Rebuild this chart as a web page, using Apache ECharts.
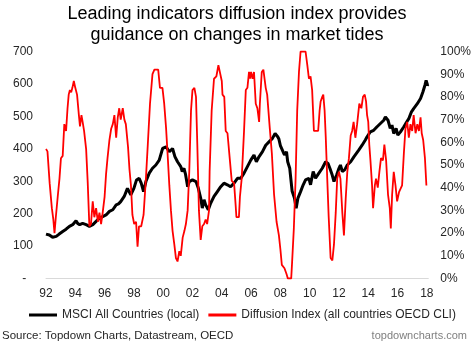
<!DOCTYPE html>
<html>
<head>
<meta charset="utf-8">
<script src="https://cdn.jsdelivr.net/npm/echarts@6/dist/echarts.min.js"></script>
<style>
html,body{margin:0;padding:0;background:#fff;}
#c{width:474px;height:346px;}
</style>
</head>
<body>
<div id="c"></div>
<script>
// MSCI All Countries (local) - left axis
const msciYears = [1992.0,1992.23,1992.45,1992.7,1992.9,1993.14,1993.37,1993.6,1993.82,1994.05,1994.16,1994.3,1994.5,1994.74,1994.96,1995.2,1995.42,1995.65,1995.87,1996.1,1996.33,1996.56,1996.79,1996.95,1997.1,1997.34,1997.56,1997.79,1998.0,1998.18,1998.36,1998.5,1998.66,1998.82,1999.05,1999.27,1999.5,1999.73,1999.96,2000.2,2000.42,2000.64,2000.8,2000.98,2001.2,2001.3,2001.42,2001.53,2001.67,2001.78,2002.0,2002.24,2002.4,2002.56,2002.67,2002.79,2002.9,2003.08,2003.24,2003.47,2003.7,2003.93,2004.15,2004.38,2004.6,2004.84,2005.07,2005.3,2005.52,2005.75,2005.98,2006.2,2006.36,2006.55,2006.78,2007.0,2007.24,2007.46,2007.64,2007.74,2007.82,2007.9,2008.0,2008.1,2008.28,2008.42,2008.5,2008.64,2008.8,2008.96,2009.08,2009.2,2009.38,2009.56,2009.72,2009.95,2010.06,2010.24,2010.4,2010.63,2010.86,2011.09,2011.25,2011.38,2011.54,2011.66,2011.84,2012.0,2012.1,2012.23,2012.39,2012.57,2012.8,2013.03,2013.12,2013.35,2013.58,2013.8,2013.92,2014.14,2014.37,2014.6,2014.83,2015.06,2015.17,2015.35,2015.5,2015.62,2015.74,2015.9,2016.02,2016.2,2016.43,2016.6,2016.77,2016.95,2017.1,2017.35,2017.57,2017.73,2017.87,2017.95,2018.05,2018.1];
const msciValues = [137,134,127,130,137,145,152,161,166,178,170,166,170,166,161,166,176,186,191,196,207,212,227,230,237,253,278,258,278,304,309,294,268,299,325,340,350,365,401,406,391,401,376,360,345,330,340,320,283,299,304,299,278,248,217,243,227,212,232,253,268,283,294,289,283,294,309,309,325,345,365,381,360,376,391,411,422,432,447,452,437,430,410,411,381,391,360,340,270,248,217,248,268,289,304,309,289,330,309,325,340,360,355,340,319,299,319,340,350,330,335,350,360,376,381,396,411,427,437,452,457,468,478,488,498,488,463,473,447,463,442,452,468,481,493,514,524,539,555,575,596,611,596,598];

// Diffusion Index (all countries OECD CLI), % - right axis
const diffYears = [1992.0,1992.1,1992.25,1992.4,1992.5,1992.58,1992.67,1992.8,1992.92,1993.02,1993.14,1993.25,1993.37,1993.47,1993.55,1993.63,1993.72,1993.8,1993.9,1994.0,1994.12,1994.23,1994.32,1994.42,1994.5,1994.6,1994.74,1994.85,1994.96,1995.07,1995.19,1995.3,1995.42,1995.54,1995.65,1995.76,1995.87,1996.0,1996.1,1996.2,1996.33,1996.45,1996.56,1996.67,1996.79,1996.9,1997.0,1997.1,1997.24,1997.35,1997.45,1997.6,1997.7,1997.8,1997.9,1998.02,1998.15,1998.25,1998.35,1998.5,1998.66,1998.82,1998.95,1999.1,1999.27,1999.4,1999.66,1999.78,1999.95,2000.07,2000.2,2000.3,2000.42,2000.53,2000.64,2000.76,2000.87,2000.98,2001.1,2001.2,2001.33,2001.45,2001.55,2001.67,2001.78,2001.9,2002.0,2002.13,2002.24,2002.33,2002.44,2002.56,2002.67,2002.79,2002.9,2003.0,2003.13,2003.17,2003.31,2003.47,2003.63,2003.77,2003.88,2004.0,2004.05,2004.17,2004.27,2004.39,2004.5,2004.68,2004.84,2004.95,2005.0,2005.17,2005.24,2005.36,2005.52,2005.64,2005.75,2005.86,2005.93,2006.0,2006.1,2006.2,2006.32,2006.43,2006.55,2006.6,2006.73,2006.84,2007.0,2007.1,2007.28,2007.42,2007.57,2007.74,2007.9,2008.0,2008.1,2008.28,2008.42,2008.51,2008.74,2008.8,2008.92,2009.04,2009.15,2009.27,2009.38,2009.72,2009.84,2009.95,2010.06,2010.17,2010.29,2010.58,2010.68,2010.75,2010.86,2010.93,2011.02,2011.1,2011.2,2011.3,2011.43,2011.55,2011.66,2011.78,2011.88,2012.0,2012.1,2012.23,2012.34,2012.46,2012.57,2012.68,2012.8,2012.9,2013.0,2013.12,2013.24,2013.39,2013.53,2013.64,2013.76,2013.85,2013.92,2014.0,2014.07,2014.15,2014.26,2014.33,2014.45,2014.53,2014.65,2014.76,2014.87,2015.0,2015.1,2015.22,2015.35,2015.47,2015.54,2015.63,2015.74,2015.86,2015.97,2016.1,2016.2,2016.31,2016.43,2016.54,2016.66,2016.77,2016.88,2017.0,2017.1,2017.23,2017.35,2017.46,2017.57,2017.65,2017.75,2017.87,2017.97];
const diffValues = [57,56,42,31,26,20,27,36,44,53,54,68,65,75,81,83,82,84,87,84,81,73,67,72,69,65,57,42,23,24,34,27,31,25,29,24,29,36,46,53,61,66,68,72,62,71,75,70,75,70,68,58,48,41,28,24,25,14,23,23,28,44,59,77,90,92,92,84,84,77,66,55,41,30,21,15,9,7.5,12,10,18,21,24,30,47,74,83,84,80,59,30,17,23,24,26,24,30,47,74,88,89,94,94,87,81,80,65,64,56,43,42,32,27,27,36,44,65,83,84,91,88,91,88,91,77,75,69,77,91,92,84,81,66,55,37,25,19,13,6,4.5,2,0,0,7,22,44,74,91,100,100,94,88,89,83,65,65,74,78,80,81,74,62,44,27,9,8,15,29,44,47,44,29,19,35,47,53,63,65,69,62,68,77,75,80,81,78,72,69,59,52,41,31,41,44,40,47,53,52,59,52,37,31,22,37,47,41,34,38,38,41,55,66,69,62,68,65,72,64,68,65,71,64,61,53,41];

const leftTicks = {min: 0, max: 700, interval: 100};
const rightTicks = {min: 0, max: 100, interval: 10};
const xRange = {min: 1992, max: 2018.1, interval: 2};

const seriesNames = ['MSCI All Countries (local)', 'Diffusion Index (all countries OECD CLI)'];
const titleText = 'Leading indicators diffusion index provides\nguidance on changes in market tides';
const sourceText = 'Source: Topdown Charts, Datastream, OECD';
const siteText = 'topdowncharts.com';

const FONT = "'Liberation Sans', Arial, sans-serif";
const zip = (a, b) => a.map((v, i) => [v, b[i]]);

const chart = echarts.init(document.getElementById('c'), null, {renderer: 'canvas'});
chart.setOption({
  animation: false,
  backgroundColor: '#fff',
  textStyle: {fontFamily: FONT},
  title: {
    text: titleText,
    left: 'center',
    top: -1,
    textStyle: {fontSize: 18, fontWeight: 'normal', color: '#000', lineHeight: 20.5, fontFamily: FONT}
  },
  grid: {left: 46, right: 45.5, top: 51.5, bottom: 67.5, containLabel: false},
  legend: {
    data: seriesNames,
    top: 304,
    left: 24,
    icon: 'rect',
    itemWidth: 28,
    itemHeight: 3,
    itemGap: 9,
    textStyle: {fontSize: 12, color: '#262626', fontFamily: FONT}
  },
  xAxis: {
    type: 'value',
    min: xRange.min,
    max: xRange.max,
    interval: xRange.interval,
    axisLine: {show: true, lineStyle: {color: '#d9d9d9', width: 1}},
    axisTick: {show: false},
    splitLine: {show: false},
    axisLabel: {
      margin: 9,
      fontSize: 12,
      color: '#262626',
      fontFamily: FONT,
      showMaxLabel: false,
      formatter: v => (Math.abs(v - Math.round(v)) < 1e-6 && Math.round(v) % 2 === 0) ? String(Math.round(v)).slice(2) : ''
    }
  },
  yAxis: [
    {
      type: 'value',
      min: leftTicks.min, max: leftTicks.max, interval: leftTicks.interval,
      axisLine: {show: false}, axisTick: {show: false}, splitLine: {show: false},
      axisLabel: {margin: 13, fontSize: 12, color: '#262626', fontFamily: FONT,
        formatter: v => v === 0 ? '-  ' : String(v)}
    },
    {
      type: 'value',
      min: rightTicks.min, max: rightTicks.max, interval: rightTicks.interval,
      axisLine: {show: false}, axisTick: {show: false}, splitLine: {show: false},
      axisLabel: {margin: 12, fontSize: 12, color: '#262626', fontFamily: FONT,
        formatter: v => v + '%'}
    }
  ],
  series: [
    {
      name: seriesNames[0],
      type: 'line',
      yAxisIndex: 0,
      data: zip(msciYears, msciValues),
      showSymbol: false,
      symbol: 'none',
      lineStyle: {color: '#000', width: 3},
      itemStyle: {color: '#000'},
      z: 2
    },
    {
      name: seriesNames[1],
      type: 'line',
      yAxisIndex: 1,
      data: zip(diffYears, diffValues),
      showSymbol: false,
      symbol: 'none',
      lineStyle: {color: '#ff0000', width: 1.8},
      itemStyle: {color: '#ff0000'},
      z: 3
    }
  ],
  graphic: [
    {type: 'text', left: 2, top: 330, style: {text: sourceText, fontSize: 11.5, fill: '#262626', fontFamily: FONT}},
    {type: 'text', right: 7, top: 330, style: {text: siteText, fontSize: 11, fill: '#7f7f7f', fontFamily: FONT}}
  ]
});
</script>
</body>
</html>
